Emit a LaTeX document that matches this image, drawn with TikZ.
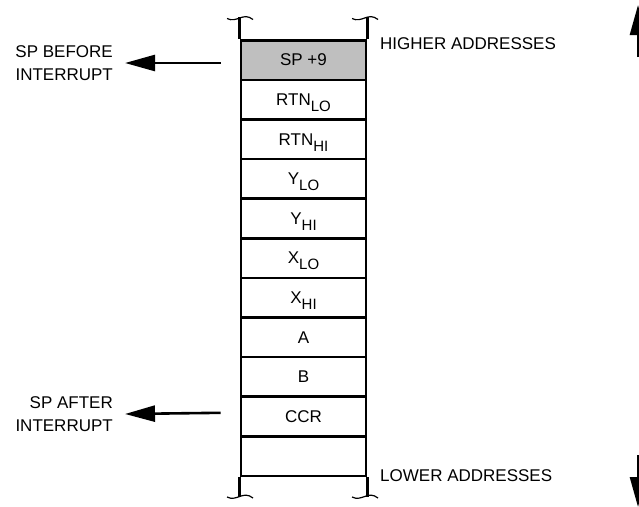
\documentclass[tikz,border=0pt]{standalone}
\usepackage{fontspec}
\setmainfont{Liberation Sans}
\usetikzlibrary{arrows.meta}
\newcommand{\regsub}[1]{\raisebox{-6pt}[0pt][0pt]{\fontsize{15}{15}\selectfont #1}}
\tikzset{cell/.style={draw,line width=2.6pt,minimum width=125pt,minimum height=39.6pt,inner sep=0pt,font=\fontsize{17}{20}\selectfont},
ptr/.style={-{Triangle[length=30pt,width=16pt]},line width=2.6pt},
lab/.style={inner sep=0pt,font=\fontsize{17}{23}\selectfont},
stackbreak/.pic={\draw[line width=1.2pt] (-14,1) .. controls (-4,6) and (2,-6) .. (12,2);}}

\begin{document}
\begin{tikzpicture}[x=1pt,y=-1pt]
\useasboundingbox (0,0) rectangle (639,506);
% stack cells
\node[cell,fill=gray!50] (c1) at (303.5,60) {SP +9};
\foreach \t [count=\i from 2] in {RTN\regsub{LO},RTN\regsub{HI},Y\regsub{LO},Y\regsub{HI},X\regsub{LO},X\regsub{HI},A,B,CCR,{}}
  \node[cell] (c\i) at (303.5,{20.4+39.6*\i}) {\t};
% open ends of the stack
\draw[line width=2.6pt] (c1.north west) -- ++(0,-22) (c1.north east) -- ++(0,-22);
\draw[line width=2.6pt] (c11.south west) -- ++(0,20) (c11.south east) -- ++(0,20);
\pic at (241,17.5) {stackbreak};
\pic at (366,17.5) {stackbreak};
\pic at (241,496) {stackbreak};
\pic at (366,496) {stackbreak};
% stack pointer labels
\node[lab,anchor=east,align=right] (spbefore) at (113,63) {SP BEFORE\\INTERRUPT};
\node[lab,anchor=east,align=right] (spafter) at (113,414) {SP AFTER\\INTERRUPT};
\draw[ptr] ([xshift=-19pt,yshift=-3pt]c1.west) -- ([xshift=12pt]spbefore.east);
\draw[ptr] ([xshift=-19pt,yshift=3.6pt]c10.west) -- ([xshift=12pt]spafter.east);
% address direction
\node[lab,anchor=west] (higher) at (380,44) {HIGHER ADDRESSES};
\node[lab,anchor=west] (lower) at (380,476) {LOWER ADDRESSES};
\coordinate (upfoot) at (638,57);
\coordinate (uptip) at (638,5);
\coordinate (downfoot) at (638,455);
\coordinate (downtip) at (638,507);
\draw[ptr] (upfoot) -- (uptip);
\draw[ptr] (downfoot) -- (downtip);
\end{tikzpicture}
\end{document}
